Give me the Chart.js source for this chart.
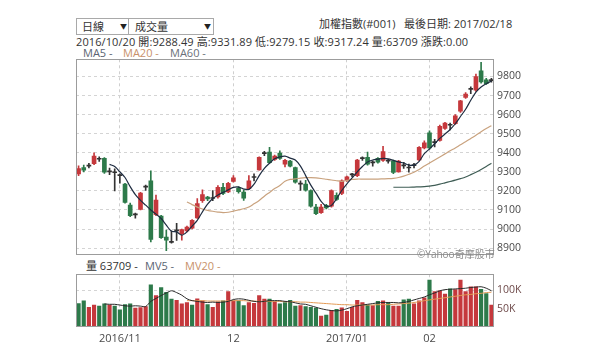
<!DOCTYPE html>
<html>
<head>
<meta charset="utf-8">
<script src="https://cdn.jsdelivr.net/npm/chart.js@4.4.1/dist/chart.umd.min.js"></script>
<style>
  body{margin:0;width:600px;height:352px;background:#fff;position:relative;overflow:hidden;
       font-family:"Open Sans","Noto Sans CJK TC",sans-serif;color:#333}
  .t{position:absolute;white-space:nowrap;font-size:11px;line-height:14px}
  .sel{position:absolute;top:18px;height:15px;border:1px solid #a9a9a9;background:#fff}
  .sel span{position:absolute;top:0;font-size:11px;line-height:15px}
  .sel i{position:absolute;top:0;font-style:normal;font-size:7px;line-height:15px;color:#222}
  canvas{position:absolute;left:0}
</style>
</head>
<body>
<div class="sel" style="left:76px;width:52px"><span style="left:5px">日線</span><i style="left:43px">▼</i></div>
<div class="sel" style="left:128px;width:84px"><span style="left:6px">成交量</span><i style="left:75px">▼</i></div>
<div class="t" style="left:319px;top:17px">加權指數(#001)&nbsp;&nbsp; 最後日期: 2017/02/18</div>
<div class="t" style="left:76px;top:35px;letter-spacing:0.1px">2016/10/20 開:9288.49 高:9331.89 低:9279.15 收:9317.24 量:63709 漲跌:0.00</div>
<div class="t" style="left:83px;top:46px;color:#5a6472">MA5 -</div>
<div class="t" style="left:123px;top:46px;color:#c8916a">MA20 -</div>
<div class="t" style="left:170px;top:46px;color:#6a7078">MA60 -</div>
<div class="t" style="left:86px;top:259px">量 63709 -</div>
<div class="t" style="left:145px;top:259px;color:#5a6472">MV5 -</div>
<div class="t" style="left:185px;top:259px;color:#c8916a">MV20 -</div>

<canvas id="price" width="600" height="215" style="top:50px"></canvas>
<canvas id="vol" width="600" height="87" style="top:265px"></canvas>
<div class="t" style="left:417px;top:247px;font-size:10px;color:#8a8a8a">©Yahoo奇摩股市</div>

<script>
// trading days shown on the chart
const days = [
  '2016/10/20','2016/10/21','2016/10/24','2016/10/25','2016/10/26','2016/10/27','2016/10/28','2016/10/31',
  '2016/11/01','2016/11/02','2016/11/03','2016/11/04','2016/11/07','2016/11/08','2016/11/09','2016/11/10','2016/11/11',
  '2016/11/14','2016/11/15','2016/11/16','2016/11/17','2016/11/18','2016/11/21','2016/11/22','2016/11/23','2016/11/24',
  '2016/11/25','2016/11/28','2016/11/29','2016/11/30',
  '2016/12/01','2016/12/02','2016/12/05','2016/12/06','2016/12/07','2016/12/08','2016/12/09','2016/12/12','2016/12/13',
  '2016/12/14','2016/12/15','2016/12/16','2016/12/19','2016/12/20','2016/12/21','2016/12/22','2016/12/23','2016/12/26',
  '2016/12/27','2016/12/28','2016/12/29','2016/12/30',
  '2017/01/03','2017/01/04','2017/01/05','2017/01/06','2017/01/09','2017/01/10','2017/01/11','2017/01/12','2017/01/13',
  '2017/01/16','2017/01/17','2017/01/18','2017/01/19','2017/01/20','2017/01/23','2017/01/24',
  '2017/02/02','2017/02/03','2017/02/06','2017/02/07','2017/02/08','2017/02/09','2017/02/10','2017/02/13','2017/02/14',
  '2017/02/15','2017/02/16','2017/02/17','2017/02/18'
];
const monthDays   = ['2016/11/01','2016/12/01','2017/01/03','2017/02/02'];
const monthLabels = ['2016/11','12','2017/01','02'];

// OHLC (加權指數)
const opens = [9288.49,9322,9330,9342,9366,9370,9300,9295,9280,9235,9125,9074,9103,9220,9253,9075,9068,8958,8930,8990,
  8975,8990,9005,9058,9148,9168,9160,9168,9218,9195,9250,9214,9194,9212,9270,9310,9395,9403,9365,9398,
  9340,9356,9322,9235,9236,9202,9115,9086,9124,9120,9176,9186,9255,9284,9280,9369,9376,9347,9370,9360,
  9356,9358,9300,9331,9320,9332,9362,9425,9505,9453,9465,9528,9544,9552,9618,9690,9732,9728,9829,9782,9778];
const highs = [9331.89,9335,9345,9400,9378,9375,9320,9315,9290,9240,9136,9084,9192,9230,9305,9178,9072,8995,8990,9030,
  9000,9015,9050,9160,9205,9172,9202,9228,9240,9245,9280,9222,9205,9280,9290,9378,9408,9428,9388,9410,
  9365,9360,9325,9253,9255,9205,9130,9130,9130,9205,9190,9258,9278,9292,9365,9378,9404,9358,9375,9433,
  9365,9362,9360,9350,9340,9345,9432,9462,9515,9470,9545,9560,9556,9600,9675,9715,9745,9812,9874,9790,9790];
const lows = [9279.15,9300,9320,9338,9355,9292,9285,9200,9240,9135,9065,9057,9100,9202,8932,9070,8950,8886,8926,8940,
  8942,8985,9000,9055,9140,9148,9148,9162,9180,9190,9245,9188,9150,9208,9252,9308,9385,9345,9360,9365,
  9325,9325,9240,9202,9198,9115,9075,9082,9105,9115,9150,9180,9250,9275,9275,9360,9335,9330,9345,9355,
  9345,9290,9298,9318,9298,9320,9358,9420,9418,9430,9460,9522,9520,9548,9612,9685,9710,9722,9765,9758,9770];
const closes = [9317.24,9308,9330,9382,9366,9298,9300,9295,9280,9140,9070,9074,9188,9220,8946,9152,8955,8941,8930,8990,
  8997,9010,9045,9133,9180,9158,9160,9218,9186,9240,9268,9196,9162,9252,9270,9376,9395,9348,9382,9370,
  9360,9330,9246,9235,9204,9120,9080,9115,9110,9202,9155,9253,9273,9284,9361,9369,9340,9347,9350,9406,
  9356,9297,9356,9331,9320,9332,9428,9452,9425,9453,9538,9555,9544,9594,9672,9708,9732,9800,9772,9762,9778];

// moving averages (null = not drawn yet)
const ma5 = [null,null,null,null,null,null,
  9339,9328,9300,9270,9222,9180,9150,9125,9100,9078,9055,9020,8988,8985,8968,8985,9015,9045,9090,9130,9160,9178,
  9192,9205,9218,9220,9210,9208,9235,9280,9318,9345,9368,9378,9382,9372,9362,9330,9280,9230,9188,9145,9120,9124,
  9160,9202,9237,9268,9300,9328,9352,9362,9366,9370,9368,9360,9352,9346,9335,9335,9355,9395,9420,9447,9475,9498,
  9522,9552,9590,9628,9675,9718,9745,9762,9776];
const ma20 = [null,null,null,null,null,null,null,null,null,null,null,null,null,null,null,null,null,null,null,null,null,
  9142,9128,9115,9105,9098,9093,9089,9086,9088,9094,9100,9106,9115,9132,9150,9172,9192,9212,9228,9250,9260,9263,
  9267,9269,9269,9268,9265,9261,9257,9253,9250,9255,9260,9262,9262,9262,9262,9262,9263,9264,9266,9270,9277,9287,
  9298,9312,9330,9346,9362,9378,9394,9410,9425,9442,9458,9475,9492,9510,9527,9542];
const ma60 = [null,null,null,null,null,null,null,null,null,null,null,null,null,null,null,null,null,null,null,null,
  null,null,null,null,null,null,null,null,null,null,null,null,null,null,null,null,null,null,null,null,
  null,null,null,null,null,null,null,null,null,null,null,null,null,null,null,null,null,null,null,null,null,
  9219,9219,9219,9219,9220,9221,9222,9225,9229,9235,9242,9249,9256,9264,9273,9285,9298,9312,9328,9345];

// 成交量, shown in K
const volumes = [63.7,71.5,54,60,57,63,60,57,47,61,63,52,53,56,115,86,108,95,76,73,
  63,67,60,77,71.5,61,54,69,71.5,97,71.5,71.5,58.5,67,64.5,86,76,76,69,63,
  67,73,57,58.5,56,54,52,30,32.6,45.6,48,52.6,43,54,73,67,60,58.5,70,71.5,
  67,57,57,74,76,63,71.5,80,128,97,99,90,104,102,128,97,110,110,103,91,60];
const volUp = [0,0,1,1,0,0,1,0,0,0,0,1,1,1,0,1,0,0,0,1,1,1,0,1,1,0,1,1,0,1,1,0,0,1,1,1,1,0,1,0,
  0,0,0,1,0,0,0,1,0,1,0,1,1,1,1,1,0,1,0,1,0,1,1,0,0,1,1,1,0,1,1,1,0,1,1,1,1,1,0,0,1];
const mv5 = [null,null,null,null,null,
  63,62,62,60,58,57,58,57,56,70,78,86,93,99,94,87,77,72,70,68,67,68,67,68,70,75,77,76,73,70,69,70,72,72,72,
  70,69,66,63,62,58,54,50,47,45,44,46,50,55,58,60,62,64,66,67,67,67,66,67,70,74,78,82,88,93,99,102,103,104,105,
  106,108,109,110,106,99];
const mv20 = [null,null,null,null,null,null,null,null,null,null,null,null,null,null,null,null,null,null,null,null,null,
  72,72,72,72,71,71,71,71,71,72,72,72,71,71,70,70,70,70,70,69,69,69,68,68,
  67,66,65,64,63,62,61,61,60,60,60,60,60,61,61,61,
  62,63,64,65,67,69,72,74,76,78,80,82,84,86,88,89,91,92,94,95];

const priceTicks = [8900,9000,9100,9200,9300,9400,9500,9600,9700,9800];
const volTicks = [50,100];

Chart.defaults.font.family = "'Open Sans', 'Noto Sans CJK TC', sans-serif";
Chart.defaults.animation = false;

const RED = '#c5383c', GREEN = '#2d7a4a', DOJI = '#333333';
const candleColor = opens.map((o, i) => closes[i] > o ? RED : (closes[i] < o ? GREEN : DOJI));
const isMonth = i => monthDays.indexOf(days[i]) >= 0;

const frame = {
  id: 'frame',
  afterDraw(c) {
    const a = c.chartArea, x = c.ctx;
    x.save();
    x.strokeStyle = '#9c9c9c';
    x.lineWidth = 1;
    x.strokeRect(Math.round(a.left) + 0.5, Math.round(a.top) + 0.5, Math.round(a.width) - 1, Math.round(a.height) - 1);
    x.restore();
  }
};

const xGrid = {
  offset: true,
  grid: {offset: false, drawTicks: false, color: c => isMonth(c.index) ? '#cfcfcf' : 'rgba(0,0,0,0)'},
  border: {display: false, dash: [3, 3]},
};

const lineDs = (data, color, w) => ({type: 'line', data, borderColor: color, borderWidth: w,
  pointRadius: 0, tension: 0.3, fill: false, order: 0});

// ---- price panel ----
new Chart(document.getElementById('price'), {
  type: 'bar',
  data: {
    labels: days,
    datasets: [
      lineDs(ma5, '#1e2c40', 1.2),
      lineDs(ma20, '#c9a27e', 1.2),
      lineDs(ma60, '#3f5d55', 1.2),
      {data: lows.map((l, i) => [l, highs[i]]), backgroundColor: candleColor, barThickness: 1, grouped: false, order: 2},
      {data: opens.map((o, i) => [o, closes[i]]), backgroundColor: candleColor, barThickness: 4, minBarLength: 1, grouped: false, order: 1},
    ]
  },
  options: {
    responsive: false,
    layout: {padding: {left: 76, top: 9, bottom: 5, right: 0}},
    plugins: {legend: {display: false}, tooltip: {enabled: false}},
    scales: {
      x: Object.assign({}, xGrid, {
        ticks: {display: false, autoSkip: false},
        afterFit: s => { s.height = 0; }
      }),
      y: {
        position: 'right', min: 8860, max: 9890,
        afterBuildTicks: s => { s.ticks = priceTicks.map(v => ({value: v})); },
        grid: {color: '#d4d4d4', drawTicks: false},
        border: {display: false, dash: [3, 3]},
        ticks: {padding: 3, color: '#4a4a4a', font: {size: 10.5}, callback: v => String(v)},
        afterFit: s => { s.width = 106; }
      }
    }
  },
  plugins: [frame]
});

// ---- volume panel ----
new Chart(document.getElementById('vol'), {
  type: 'bar',
  data: {
    labels: days,
    datasets: [
      lineDs(mv5, '#2a2a2a', 1),
      lineDs(mv20, '#e39a55', 1),
      {data: volumes, backgroundColor: volUp.map(u => u ? RED : GREEN), barThickness: 3.5, order: 1},
    ]
  },
  options: {
    responsive: false,
    layout: {padding: {left: 76, top: 7, bottom: 5, right: 0}},
    plugins: {legend: {display: false}, tooltip: {enabled: false}},
    scales: {
      x: Object.assign({}, xGrid, {
        ticks: {autoSkip: false, maxRotation: 0, padding: 5, color: '#4a4a4a', font: {size: 11},
          callback: (v, i) => isMonth(i) ? monthLabels[monthDays.indexOf(days[i])] : ''},
        afterFit: s => { s.height = 20; }
      }),
      y: {
        position: 'right', min: 0, max: 144,
        afterBuildTicks: s => { s.ticks = volTicks.map(v => ({value: v})); },
        grid: {color: c => c.tick && c.tick.value === 100 ? '#d4d4d4' : 'rgba(0,0,0,0)', drawTicks: false},
        border: {display: false, dash: [3, 3]},
        ticks: {padding: 3, color: '#6e4a4a', font: {size: 10.5}, callback: v => v + 'K'},
        afterFit: s => { s.width = 106; }
      }
    }
  },
  plugins: [frame]
});
</script>
</body>
</html>
